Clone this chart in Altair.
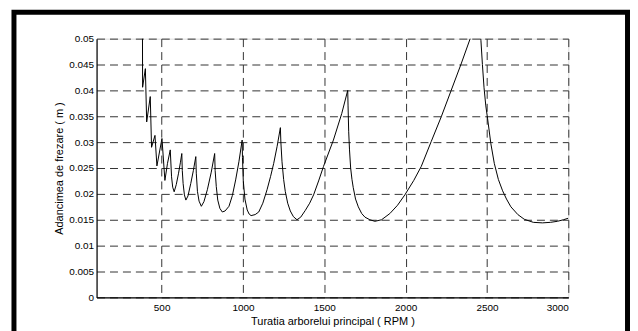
import altair as alt
import pandas as pd

# Spindle speed (RPM) and limiting depth of cut (m)
rpm = [381, 383, 400, 408, 430, 438, 459, 471, 502, 520, 536, 553, 561, 568,
       577, 590, 604, 615, 624, 627, 632, 640, 649, 662, 679, 695, 710, 713,
       720, 730, 744, 760, 781, 805, 826, 829, 836, 845, 858, 873, 890, 914,
       935, 955, 975, 995, 997, 1002, 1012, 1026, 1038, 1050, 1075, 1097, 1122,
       1148, 1170, 1189, 1210, 1230, 1233, 1240, 1250, 1260, 1275, 1291, 1310,
       1332, 1355, 1383, 1410, 1434, 1465, 1495, 1556, 1607, 1644, 1646, 1650,
       1655, 1662, 1670, 1678, 1692, 1709, 1730, 1750, 1780, 1811, 1852, 1903,
       1950, 1995, 2050, 2096, 2157, 2219, 2280, 2341, 2398, 2430, 2463, 2472,
       2482, 2493, 2504, 2524, 2545, 2570, 2596, 2620, 2647, 2690, 2729, 2785,
       2841, 2890, 2933, 2970, 3000]
depth = [0.065, 0.0406, 0.0442, 0.0339, 0.0388, 0.029, 0.0313, 0.0254, 0.0307,
         0.0226, 0.0259, 0.0285, 0.0233, 0.0213, 0.0204, 0.0218, 0.0240, 0.026,
         0.0278, 0.0245, 0.022, 0.0198, 0.0188, 0.0196, 0.022, 0.0245, 0.0272,
         0.024, 0.0205, 0.0186, 0.0176, 0.0185, 0.0208, 0.0242, 0.0278, 0.0245,
         0.0214, 0.0188, 0.0172, 0.0165, 0.0167, 0.0176, 0.0197, 0.0227, 0.0262,
         0.0304, 0.027, 0.0225, 0.019, 0.0169, 0.0161, 0.0158, 0.016, 0.0165,
         0.0182, 0.0208, 0.0234, 0.0259, 0.0292, 0.0328, 0.030, 0.0262, 0.0228,
         0.0205, 0.0182, 0.0167, 0.0156, 0.015, 0.0155, 0.0168, 0.0182, 0.0198,
         0.0225, 0.0253, 0.0304, 0.0355, 0.040, 0.037, 0.032, 0.0285, 0.025,
         0.0228, 0.0212, 0.019, 0.0175, 0.0162, 0.0155, 0.0150, 0.0147, 0.0150,
         0.0162, 0.0178, 0.0198, 0.0226, 0.0253, 0.0301, 0.0349, 0.040, 0.0451,
         0.0501, 0.060, 0.0496, 0.045, 0.0405, 0.037, 0.0345, 0.0297, 0.0259,
         0.0228, 0.0206, 0.019, 0.0175, 0.016, 0.0151, 0.0145, 0.0144, 0.0145,
         0.0147, 0.015, 0.0153]

x_ticks = [500, 1000, 1500, 2000, 2500, 3000]
y_ticks = [0, 0.005, 0.01, 0.015, 0.02, 0.025, 0.03, 0.035, 0.04, 0.045, 0.05]

df = pd.DataFrame({"rpm": rpm, "depth": depth})

FONT = "Liberation Sans"

x_axis = alt.Axis(values=x_ticks, format="d",
                  title="Turatia arborelui principal ( RPM )",
                  grid=True, gridDash=[8, 5], gridColor="#333", gridWidth=1,
                  ticks=False, labelPadding=5, labelFontSize=10,
                  titleFontSize=11, titleFontWeight="normal",
                  titleY=24, titleBaseline="middle",
                  domainColor="black", domainWidth=1.2, labelColor="black",
                  titleColor="black", labelFont=FONT, titleFont=FONT)
y_axis = alt.Axis(values=y_ticks, format="~g",
                  title="Adancimea de frezare ( m )",
                  grid=True, gridDash=[8, 5], gridColor="#333", gridWidth=1,
                  ticks=False, labelPadding=3, labelFontSize=10,
                  titleFontSize=11, titleFontWeight="normal",
                  titleX=-37, titleBaseline="middle", titleAngle=-90,
                  domainColor="black", domainWidth=1.2, labelColor="black",
                  titleColor="black", labelFont=FONT, titleFont=FONT)

line = alt.Chart(df).mark_line(color="black", strokeWidth=1, clip=True).encode(
    x=alt.X("rpm:Q", scale=alt.Scale(domain=[100, 3000], nice=False, zero=False),
            axis=x_axis),
    y=alt.Y("depth:Q", scale=alt.Scale(domain=[0, 0.05], nice=False),
            axis=y_axis),
)

frame = alt.Chart(pd.DataFrame({"a": [0]})).mark_rect(
    filled=False, stroke="black", strokeWidth=5, clip=False
).encode(
    x=alt.value(-83), x2=alt.value(533.5),
    y=alt.value(-26.5), y2=alt.value(330),
)

chart = alt.layer(frame, line).properties(
    width=474, height=260,
    padding={"left": 89, "top": 30, "right": 62, "bottom": 33},
    autosize=alt.AutoSizeParams(type="none"),
).configure_view(stroke="black", strokeWidth=1.2).configure(background="white")

chart.save("out.html", embed_options={"renderer": "svg", "actions": False})
